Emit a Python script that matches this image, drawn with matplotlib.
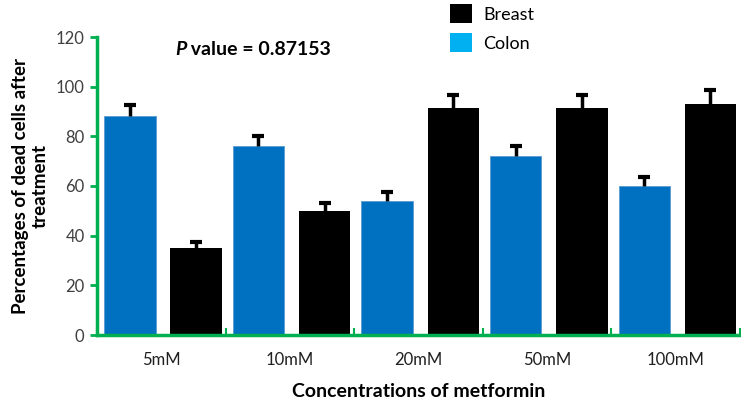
import matplotlib
matplotlib.use("Agg")
import matplotlib.pyplot as plt
from matplotlib.patches import Patch
import numpy as np

# values
concentrations = ["5mM", "10mM", "20mM", "50mM", "100mM"]
colon = [88, 76, 54, 72, 60]
colon_err = [4.5, 4, 3.5, 4, 3.5]
breast = [35, 50, 91.5, 91.5, 93]
breast_err = [2.5, 3, 5, 5, 5.8]
yticks = [0, 20, 40, 60, 80, 100, 120]

plt.rcParams["font.family"] = ["Lato", "DejaVu Sans"]

green = "#00B050"
bar_blue = "#0070C0"
legend_blue = "#00B0F0"

fig = plt.figure(figsize=(7.41, 4.0), dpi=100)
ax = fig.add_axes([0.131, 0.1625, 0.8677, 0.745])

x = np.arange(len(concentrations))
w = 0.40
xc = x + 0.255
xb = x + 0.77

ax.bar(xc, colon, w, color=bar_blue, edgecolor="#5B9BD5", linewidth=0.6, zorder=2)
ax.bar(xb, breast, w, color="black", zorder=2)

# upper-only error bars with a cap on top
for xs, vals, errs in ((xc, colon, colon_err), (xb, breast, breast_err)):
    tops = np.array(vals) + np.array(errs)
    ax.vlines(xs, vals, tops, color="black", linewidth=2.5, zorder=3)
    ax.plot(xs, tops, linestyle="none", marker="_", markersize=9,
            markeredgewidth=3, color="black", zorder=3)

ax.set_xlim(0, 5)
ax.set_ylim(0, 120)
ax.set_yticks(yticks)
ax.tick_params(axis="y", colors=green, labelcolor="#404040", labelsize=12,
               length=5, width=2, direction="out", pad=4)

# group boundaries carry small inward ticks, labels sit at group centres
ax.set_xticks(np.arange(0, 6), minor=False)
ax.set_xticklabels([""] * 6)
ax.tick_params(axis="x", which="major", colors=green, length=5, width=1.5,
               direction="in")
ax.set_xticks(x + 0.5, minor=True)
ax.set_xticklabels(concentrations, minor=True, fontsize=12, color="#202020")
ax.tick_params(axis="x", which="minor", length=0, pad=12)

for side in ("top", "right"):
    ax.spines[side].set_visible(False)
for side in ("left", "bottom"):
    ax.spines[side].set_color(green)
    ax.spines[side].set_linewidth(2.5)

ax.set_ylabel("Percentages of dead cells after\ntreatment", fontsize=13.5,
              fontweight="bold", labelpad=5, linespacing=1.2)
ax.set_xlabel("Concentrations of metformin", fontsize=14, fontweight="bold",
              labelpad=11)

t1 = fig.text(0.236, 0.862, "P", fontsize=14, fontweight="bold", style="italic",
              va="baseline")
ax.annotate(" value = 0.87153", xy=(1, 0), xycoords=t1, fontsize=14,
            fontweight="bold", va="bottom", ha="left")

handles = [Patch(facecolor="black", label="Breast"),
           Patch(facecolor=legend_blue, label="Colon")]
fig.legend(handles=handles, loc="upper left", bbox_to_anchor=(0.585, 1.03),
           frameon=False, fontsize=13, handlelength=1.25, handleheight=1.25,
           handletextpad=0.6, labelspacing=0.55)

fig.savefig("out.png", dpi=100)
